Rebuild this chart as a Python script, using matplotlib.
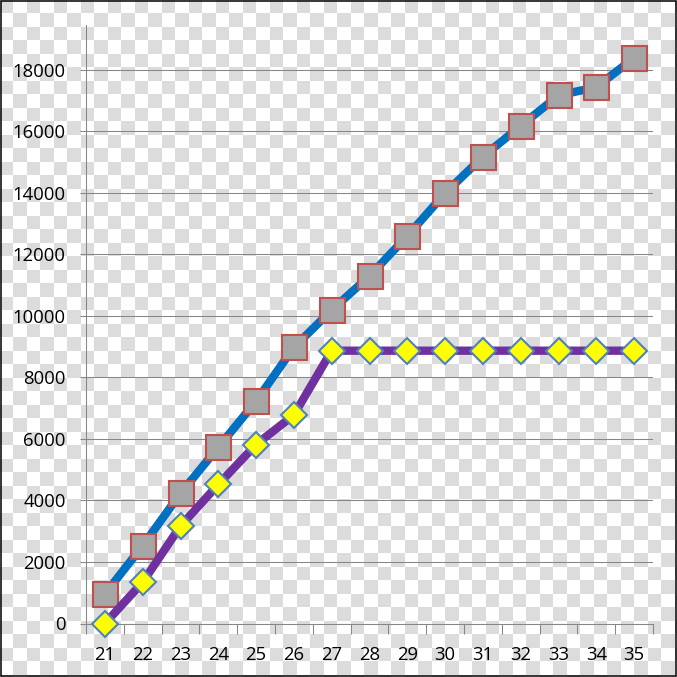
import numpy as np
import matplotlib
matplotlib.use("Agg")
import matplotlib.pyplot as plt
from matplotlib.patches import Rectangle

# x categories and the two series
years = [21, 22, 23, 24, 25, 26, 27, 28, 29, 30, 31, 32, 33, 34, 35]
total = [960, 2530, 4230, 5730, 7230, 8980, 10190, 11300, 12600,
         13990, 15180, 16180, 17170, 17440, 18390]
capped = [0, 1340, 3170, 4520, 5820, 6780, 8870, 8870, 8870,
          8870, 8870, 8870, 8870, 8870, 8870]
yticks = [0, 2000, 4000, 6000, 8000, 10000, 12000, 14000, 16000, 18000]

W = H = 677
GRID = "#868686"

plt.rcParams.update({
    "font.family": ["Open Sans", "DejaVu Sans"],
    "font.size": 13.3,
})

fig = plt.figure(figsize=(W / 100, H / 100), dpi=100)

# transparent-style checkerboard behind everything
bg = fig.add_axes([0, 0, 1, 1], zorder=0)
cell = 13.5
n = 51
ii, jj = np.indices((n, n))
board = np.where((ii + jj) % 2 == 0, 220, 255).astype(np.uint8)
board = np.dstack([board] * 3)
bg.imshow(board, interpolation="nearest",
          extent=(0, n * cell, n * cell, 0))
bg.add_patch(Rectangle((1, 1), W - 2.5, H - 2.5, fill=False,
                       edgecolor="black", linewidth=1.1))
bg.set_xlim(0, W)
bg.set_ylim(H, 0)
bg.axis("off")

# main chart
left, right, top, bottom = 86, 653, 25, 623.5
ax = fig.add_axes([left / W, (H - bottom) / H, (right - left) / W,
                   (bottom - top) / H], zorder=1)
ax.patch.set_alpha(0)

x = np.arange(len(years))
ax.plot(x, total, color="#0070C0", linewidth=6, marker="s",
        markersize=18, markerfacecolor="#A5A5A5", markeredgecolor="#C0504D",
        markeredgewidth=1.5, clip_on=False, zorder=3)
ax.plot(x, capped, color="#7030A0", linewidth=6, marker="D",
        markersize=13.2, markerfacecolor="#FFFF00", markeredgecolor="#4F81BD",
        markeredgewidth=1.5, clip_on=False, zorder=4)

ax.set_xlim(-0.5, len(years) - 0.5)
ax.set_ylim(0, 19460)

# category labels at centres, tick marks between categories
ax.set_xticks(x)
ax.set_xticklabels([str(v) for v in years])
ax.set_xticks(np.arange(len(years) + 1) - 0.5, minor=True)
ax.tick_params(axis="x", which="major", length=0, pad=16)
ax.tick_params(axis="x", which="minor", length=7, width=0.75,
               color=GRID, direction="out")

ax.set_yticks(yticks)
ax.tick_params(axis="y", length=4.5, width=0.75, color=GRID, pad=10)

ax.grid(axis="y", color=GRID, linewidth=0.75)
ax.set_axisbelow(True)

for side in ("top", "right"):
    ax.spines[side].set_visible(False)
for side in ("left", "bottom"):
    ax.spines[side].set_color(GRID)
    ax.spines[side].set_linewidth(0.75)

fig.savefig("out.png", dpi=100)
